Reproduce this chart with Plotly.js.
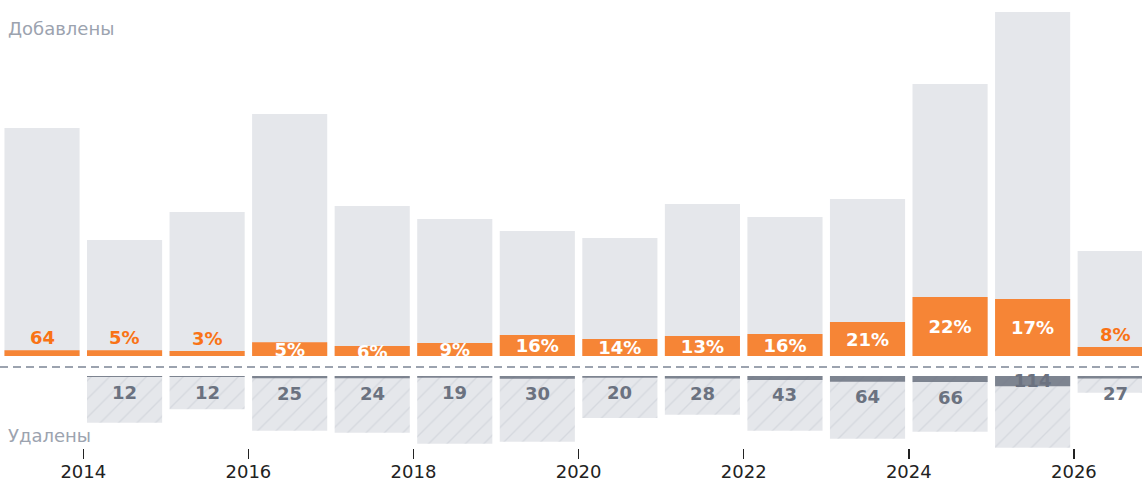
<!DOCTYPE html>
<html><head><meta charset="utf-8">
<script src="https://cdn.plot.ly/plotly-3.0.1.min.js"></script>
<style>html,body{margin:0;padding:0;background:#fff}</style></head>
<body>
<div id="chart" style="width:1142px;height:481px"></div>
<script>
const years = [2013,2014,2015,2016,2017,2018,2019,2020,2021,2022,2023,2024,2025,2026];
const addedTotal = [2508,1276,1584,2662,1650,1507,1375,1298,1672,1529,1727,2992,3784,1155];
const addedPart = [64,64,55,150,110,143,231,187,220,242,374,649,627,99];
const addedLabels = ['64','5%','3%','5%','6%','9%','16%','14%','13%','16%','21%','22%','17%','8%'];
const removedTotal = [null,514,366,602,624,745,723,462,426,602,690,613,789,184];
const removedPart = [null,12,12,25,24,19,30,20,28,43,64,66,114,27];
const removedLabels = ['','12','12','25','24','19','30','20','28','43','64','66','114','27'];
const tickYears = [2014,2016,2018,2020,2022,2024,2026];

const UNIT = 11;            // data units per pixel (shared scale)
const FONT = 'DejaVu Sans';
const xs = years.map(y => y + 0.5);
const W = 0.91;

const traces = [
  {type:'bar', x:xs, y:addedTotal, width:W, marker:{color:'#e5e7eb'}, xaxis:'x', yaxis:'y', hoverinfo:'skip'},
  {type:'bar', x:xs, y:addedPart, width:W, marker:{color:'rgba(249,115,22,0.85)'}, xaxis:'x', yaxis:'y', hoverinfo:'skip'},
  {type:'bar', x:xs, y:removedTotal, width:W, xaxis:'x', yaxis:'y2', hoverinfo:'skip',
   marker:{color:'#e5e7eb', pattern:{shape:'/', fgcolor:'#d5d8de', bgcolor:'#e5e7eb', size:13, solidity:0.1, fillmode:'replace'}}},
  {type:'bar', x:xs, y:removedPart, width:W, marker:{color:'rgba(107,114,128,0.85)'}, xaxis:'x', yaxis:'y2', hoverinfo:'skip'}
];

// inside labels (white / gray), clipped to plot area
const inX=[], inY=[], inT=[];
const annotations = [];
addedPart.forEach((v,i) => {
  if (v >= 105) { inX.push(xs[i]); inY.push(v/2 - 2*UNIT); inT.push(addedLabels[i]); }
  else annotations.push({x:xs[i], y:v, xref:'x', yref:'y', text:addedLabels[i], showarrow:false,
    yanchor:'middle', yshift:13, font:{family:FONT, size:18, color:'#f97316', weight:'bold'}});
});
traces.push({type:'scatter', mode:'text', x:inX, y:inY, text:inT, textposition:'middle center', cliponaxis:true,
  textfont:{family:FONT, size:18, color:'#ffffff', weight:'bold'}, xaxis:'x', yaxis:'y', hoverinfo:'skip'});

const rX=[], rY=[], rT=[];
removedPart.forEach((v,i) => {
  if (v == null) return;
  if (v >= 100) { rX.push(xs[i]); rY.push(v/2 + 1*UNIT); rT.push(removedLabels[i]); }
  else annotations.push({x:xs[i], y:v, xref:'x', yref:'y2', text:removedLabels[i], showarrow:false,
    yanchor:'middle', yshift:-15, font:{family:FONT, size:18, color:'#6b7280', weight:'bold'}});
});
traces.push({type:'scatter', mode:'text', x:rX, y:rY, text:rT, textposition:'middle center', cliponaxis:false,
  textfont:{family:FONT, size:18, color:'#6b7280', weight:'bold'}, xaxis:'x', yaxis:'y2', hoverinfo:'skip'});

annotations.push({xref:'paper', yref:'paper', x:6/1142, y:1, yshift:-28, xanchor:'left', yanchor:'middle',
  text:'Добавлены', showarrow:false, font:{family:FONT, size:18, color:'#9ca3af'}});
annotations.push({xref:'paper', yref:'paper', x:6/1142, y:(448-435)/448, xanchor:'left', yanchor:'middle',
  text:'Удалены', showarrow:false, font:{family:FONT, size:18, color:'#9ca3af'}});

const PLOT_H = 448;
const layout = {
  width:1142, height:481,
  margin:{l:0, r:0, t:0, b:33, pad:0},
  paper_bgcolor:'#ffffff', plot_bgcolor:'#ffffff',
  showlegend:false, barmode:'overlay', hovermode:false,
  xaxis:{type:'linear', range:[2012.991, 2026.825], anchor:'y2', tickvals:tickYears, ticktext:tickYears.map(String),
    ticks:'outside', ticklen:10, tickwidth:1.5, tickcolor:'#222', showgrid:false, zeroline:false, showline:false,
    ticklabelstandoff:-3,
    tickfont:{family:FONT, size:18, color:'#222'}},
  yaxis:{domain:[92/PLOT_H, 1], range:[0, 356*UNIT], visible:false, fixedrange:true},
  yaxis2:{domain:[0, 72/PLOT_H], range:[72*UNIT, 0], visible:false, fixedrange:true},
  shapes:[{type:'line', xref:'paper', yref:'paper', x0:0, x1:1, y0:(PLOT_H-367)/PLOT_H, y1:(PLOT_H-367)/PLOT_H,
    line:{color:'#9ca3af', width:2, dash:'8px,5px'}}],
  annotations:annotations
};
Plotly.newPlot('chart', traces, layout, {displayModeBar:false, staticPlot:true});
</script>
</body></html>
